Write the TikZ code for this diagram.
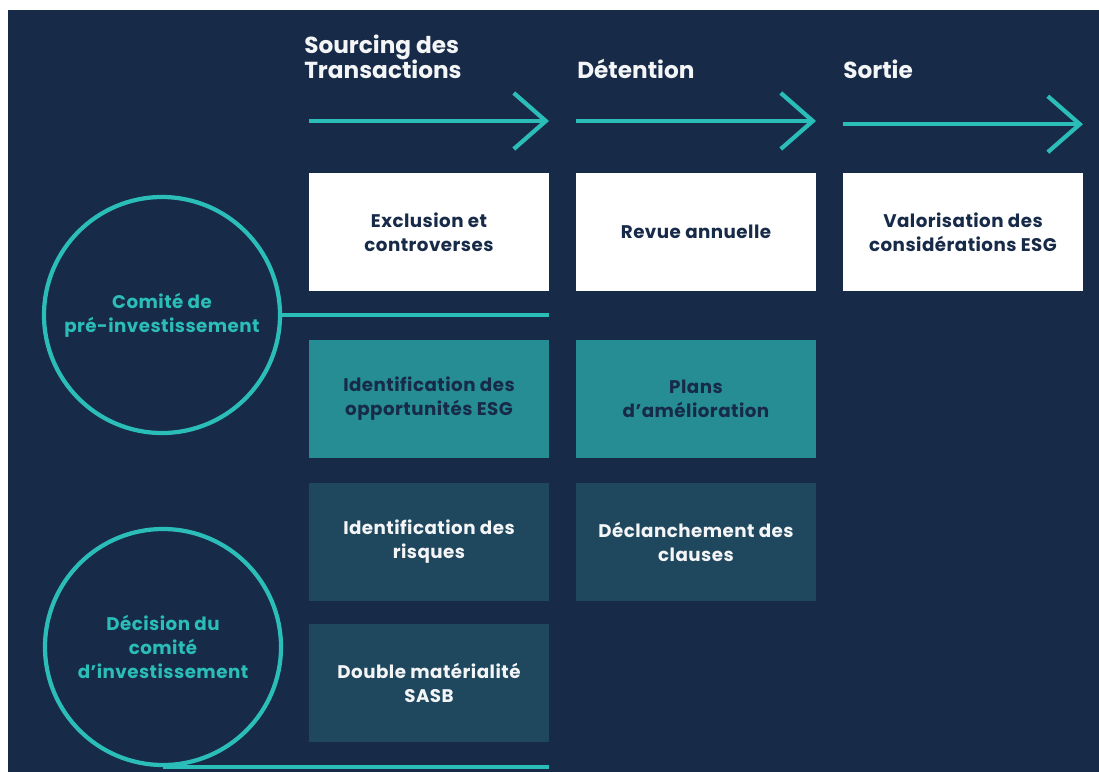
\documentclass[tikz,border=0pt]{standalone}
\usepackage{fontspec}
\setmainfont{Poppins}
\newfontfamily\trackfont[LetterSpace=2.5]{Poppins}
\usetikzlibrary{arrows.meta,positioning}
\definecolor{Navy}{HTML}{172A48}
\definecolor{Aqua}{HTML}{2BBDB8}
\definecolor{Lagoon}{HTML}{268D94}
\definecolor{Slate}{HTML}{1F475E}
\definecolor{Snow}{HTML}{F4F5F6}
\tikzset{
  box/.style={minimum width=6cm, minimum height=2.95cm, inner sep=0pt, outer sep=0pt,
              align=center, font=\trackfont\fontsize{13}{17}\selectfont\bfseries},
  pale/.style={box, fill=white, text=Navy},
  mid/.style={box, fill=Lagoon, text=Navy},
  deep/.style={box, fill=Slate, text=Snow},
  phase/.style={anchor=south west, inner sep=0pt, align=left, text=Snow,
                font=\fontsize{16.5}{18}\selectfont\bfseries},
  ring/.style={circle, draw=Aqua, line width=3pt, minimum size=5.9cm, inner sep=0pt,
               align=center, text=Aqua, font=\trackfont\fontsize{13}{17}\selectfont\bfseries},
  flow/.style={-{Straight Barb[length=8mm,width=14mm]}, line width=3pt, draw=Aqua},
  link/.style={line width=3pt, draw=Aqua},
}

\begin{document}
\begin{tikzpicture}[node distance=6mm]
  \useasboundingbox (0,0) rectangle (27.475,-19.275);
  \fill[white] (0,0) rectangle (27.475,-19.275);
  \fill[Navy] (0.2,-0.25) rectangle (27.6,-19.4);

  \node[pale] (a1) at (10.725,-5.8) {Exclusion et\\controverses};
  \node[pale, right=6.75mm of a1] (b1) {Revue annuelle};
  \node[pale, right=6.75mm of b1] (c1) {Valorisation des\\considérations ESG};
  \node[mid, below=12.25mm of a1] (a2) {Identification des\\opportunités ESG};
  \node[deep, below=6.25mm of a2] (a3) {Identification des\\risques};
  \node[deep, below=5.75mm of a3] (a4) {Double matérialité\\SASB};
  \node[mid, below=12.25mm of b1] (b2) {Plans\\d’amélioration};
  \node[deep, below=6.25mm of b2] (b3) {Déclanchement des\\clauses};

  \node[phase] (h1) at ([shift={(-0.125,2.35)}]a1.north west) {Sourcing des\\Transactions};
  \node[phase] (h2) at ([shift={(0.025,2.35)}]b1.north west) {Détention};
  \node[phase] (h3) at ([shift={(0,2.35)}]c1.north west) {Sortie};

  \coordinate (s1) at ([yshift=1.3cm]a1.north west);
  \coordinate (e1) at ([yshift=1.3cm]a1.north east);
  \coordinate (s2) at ([yshift=1.3cm]b1.north west);
  \coordinate (e2) at ([yshift=1.3cm]b1.north east);
  \coordinate (s3) at ([yshift=1.22cm]c1.north west);
  \coordinate (e3) at ([yshift=1.22cm]c1.north east);
  \draw[flow] (s1) -- (e1);
  \draw[flow] (s2) -- (e2);
  \draw[flow] (s3) -- (e3);

  \node[ring] (pre) at (4.05,-7.875) {Comité de\\pré-investissement};
  \node[ring] (dec) at (4.075,-16.175) {Décision du\\comité\\d’investissement};
  \draw[link] (pre.east) -- (pre.east -| a1.east);
  \draw[link] (dec.south) -- (dec.south -| a4.east);
\end{tikzpicture}
\end{document}
